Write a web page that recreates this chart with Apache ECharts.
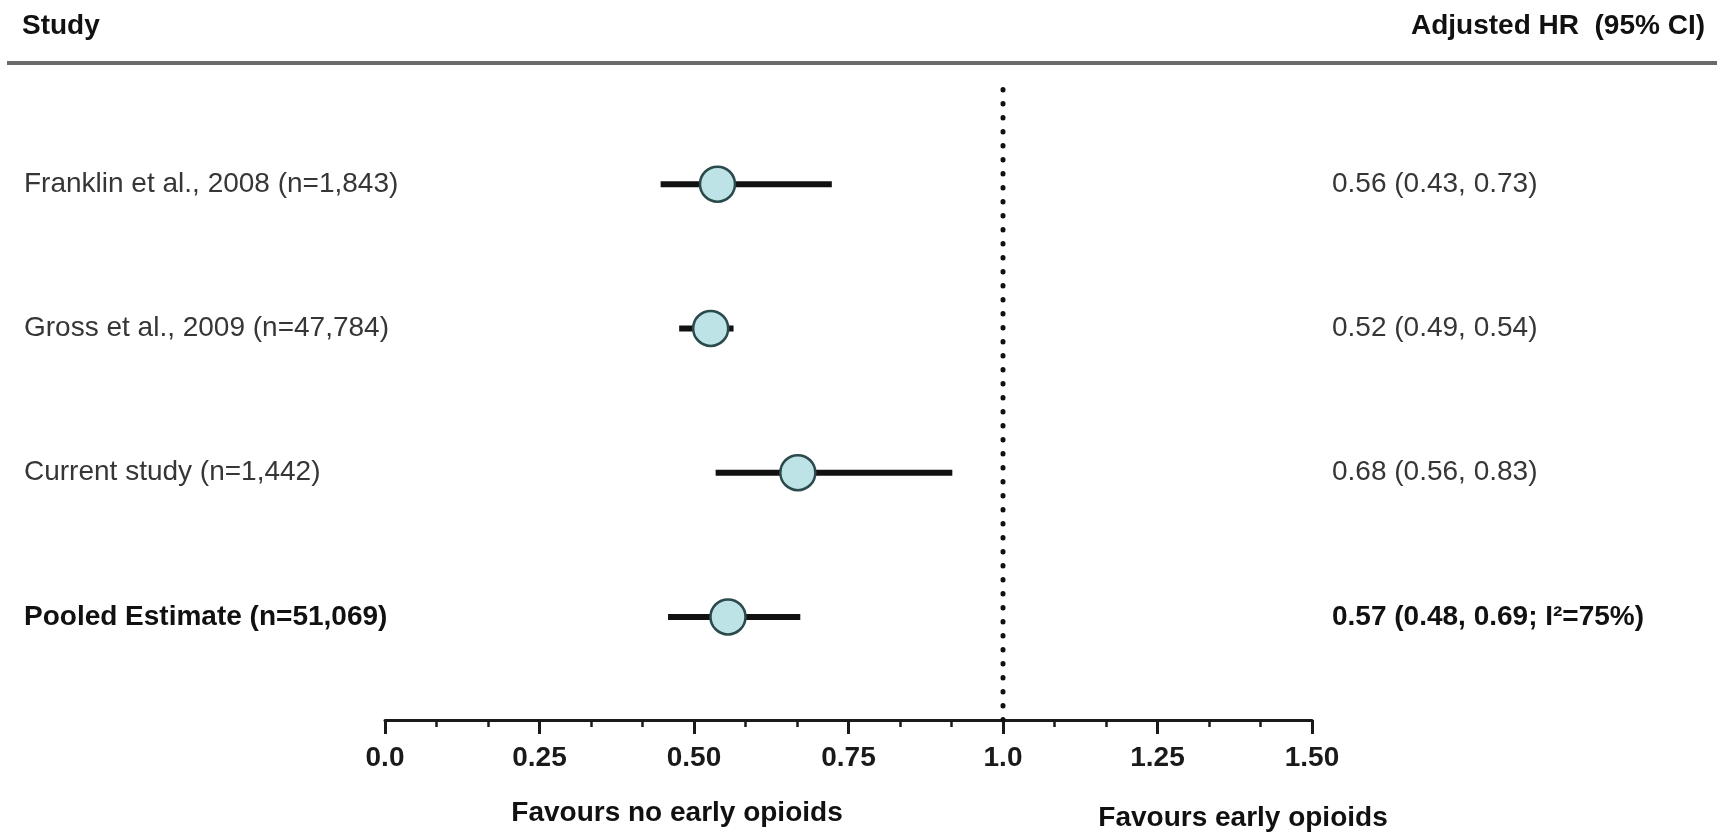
<!DOCTYPE html>
<html><head><meta charset="utf-8">
<script src="https://cdn.jsdelivr.net/npm/echarts@6/dist/echarts.min.js"></script>
<style>html,body{margin:0;padding:0;background:#fff}#c{width:1727px;height:833px}</style>
</head><body><div id="c"></div>
<script>
// ---- data ----
const studies = ['Franklin et al., 2008 (n=1,843)', 'Gross et al., 2009 (n=47,784)', 'Current study (n=1,442)', 'Pooled Estimate (n=51,069)'];
const hrText = ['0.56 (0.43, 0.73)', '0.52 (0.49, 0.54)', '0.68 (0.56, 0.83)', '0.57 (0.48, 0.69; I\u00b2=75%)'];
const estimate = [0.538, 0.527, 0.668, 0.555];
const lower = [0.446, 0.476, 0.535, 0.458];
const upper = [0.723, 0.564, 0.918, 0.672];
const boldRows = [false, false, false, true];
const xTickLabels = ['0.0', '0.25', '0.50', '0.75', '1.0', '1.25', '1.50'];
const xMin = 0, xMax = 1.5, xStep = 0.25;
const nullValue = 1.0;
const headerLeft = 'Study';
const headerRight = 'Adjusted HR  (95% CI)';
const favourLeft = 'Favours no early opioids';
const favourRight = 'Favours early opioids';

// ---- chart ----
const FONT = '"Liberation Sans", Arial, sans-serif';
const chart = echarts.init(document.getElementById('c'), null, {renderer: 'canvas'});
const GL = 385, GR = 415;
const rich = {
  n: {fontFamily: FONT, fontSize: 28, color: '#363636', fontWeight: 'normal'},
  b: {fontFamily: FONT, fontSize: 28, color: '#111', fontWeight: 'bold'}
};
const fmtRow = (v, i) => (boldRows[i] ? '{b|' : '{n|') + v + '}';

chart.setOption({
  animation: false,
  backgroundColor: '#fff',
  grid: [
    {left: GL, right: GR, top: 85, bottom: 113},
    {left: GL, right: GR, top: 112, bottom: 144}
  ],
  xAxis: [
    {
      type: 'value', gridIndex: 0, min: xMin, max: xMax, interval: xStep,
      axisLine: {show: true, lineStyle: {color: '#1a1a1a', width: 3}},
      axisTick: {show: true, length: 14, lineStyle: {color: '#1a1a1a', width: 3}},
      minorTick: {show: true, splitNumber: 3, length: 7, lineStyle: {color: '#1a1a1a', width: 2.5}},
      splitLine: {show: false},
      axisLabel: {
        margin: 24, fontFamily: FONT, fontSize: 28, fontWeight: 'bold', color: '#1a1a1a',
        formatter: v => xTickLabels[Math.round((v - xMin) / xStep)]
      }
    },
    {type: 'value', gridIndex: 1, min: xMin, max: xMax, show: false}
  ],
  yAxis: [
    {type: 'value', gridIndex: 0, min: 0, max: 1, show: false},
    {
      type: 'category', gridIndex: 1, inverse: true, data: studies, position: 'left',
      axisLine: {show: false}, axisTick: {show: false}, splitLine: {show: false},
      axisLabel: {interval: 0, align: 'left', margin: GL - 24, formatter: fmtRow, rich}
    },
    {
      type: 'category', gridIndex: 1, inverse: true, data: hrText, position: 'right',
      axisLine: {show: false}, axisTick: {show: false}, splitLine: {show: false},
      axisLabel: {interval: 0, align: 'left', margin: 20, formatter: fmtRow, rich}
    }
  ],
  series: [
    {
      type: 'line', xAxisIndex: 0, yAxisIndex: 0, symbol: 'none', silent: true,
      data: [[nullValue, 0], [nullValue, 1]],
      lineStyle: {color: '#111', width: 5, type: [0.5, 13.5], cap: 'round'}
    },
    {
      type: 'custom', xAxisIndex: 1, yAxisIndex: 1, silent: true, z: 2,
      data: studies.map((s, i) => [lower[i], upper[i], i]),
      encode: {x: [0, 1], y: 2},
      renderItem: (params, api) => {
        const a = api.coord([api.value(0), api.value(2)]);
        const b = api.coord([api.value(1), api.value(2)]);
        return {type: 'line', shape: {x1: a[0], y1: a[1], x2: b[0], y2: b[1]},
                style: {stroke: '#111', lineWidth: 6}};
      }
    },
    {
      type: 'scatter', xAxisIndex: 1, yAxisIndex: 1, z: 3, silent: true,
      symbol: 'circle', symbolSize: 35,
      data: estimate.map((v, i) => [v, i]),
      itemStyle: {color: '#bee3e6', borderColor: '#2b4a4c', borderWidth: 2.5, opacity: 1}
    }
  ],
  graphic: [
    {type: 'text', left: 22, top: 12, style: {text: headerLeft, font: 'bold 28px ' + FONT, fill: '#111'}},
    {type: 'text', right: 22, top: 12, style: {text: headerRight, font: 'bold 28px ' + FONT, fill: '#111'}},
    {type: 'line', shape: {x1: 7, y1: 63, x2: 1717, y2: 63}, style: {stroke: '#6b6b6b', lineWidth: 4}},
    {type: 'text', x: 677, y: 813, style: {text: favourLeft, font: 'bold 28px ' + FONT, fill: '#111', textAlign: 'center', textVerticalAlign: 'middle'}},
    {type: 'text', x: 1243, y: 818, style: {text: favourRight, font: 'bold 28px ' + FONT, fill: '#111', textAlign: 'center', textVerticalAlign: 'middle'}}
  ]
});
</script>
</body></html>
